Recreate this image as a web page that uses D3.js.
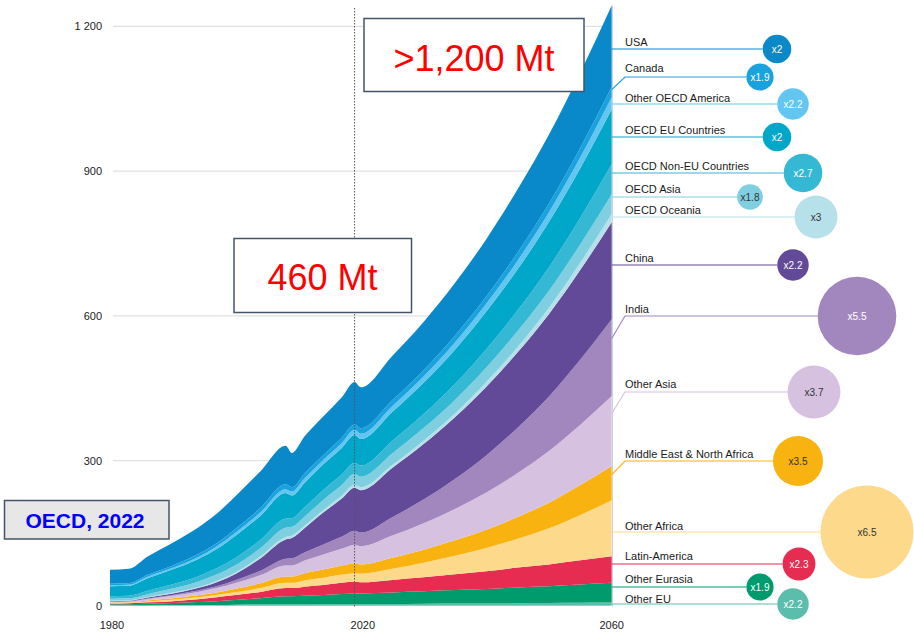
<!DOCTYPE html>
<html>
<head>
<meta charset="utf-8">
<script src="https://cdn.jsdelivr.net/npm/d3@7/dist/d3.min.js"></script>
<style>
  body { margin: 0; background: #fff; font-family: "Liberation Sans", Arial, sans-serif; }
</style>
</head>
<body>
<div id="chart"></div>
<script>
// years shown on the stacked area (historic + projection)
const years = [1980, 1983, 1986, 1990, 1994, 1997, 2000, 2004, 2008, 2009, 2011, 2014, 2017, 2019, 2020, 2025, 2030, 2035, 2040, 2045, 2050, 2055, 2060]

// plastic use per region, Mt (bottom of stack first)
const otherEu      = [0.5, 0.5, 0.5, 1, 1, 1, 1.5, 2, 2, 2, 2, 2.5, 3, 3, 3, 3, 3.5, 4, 4, 4.5, 5, 5.5, 6]
const otherEurasia = [2, 2, 3, 4, 6, 8, 10, 13, 17, 17, 18, 19, 21, 22, 22, 24, 26, 28, 30, 33, 35, 38, 41]
const latinAmerica = [1.5, 2, 3, 4, 6, 8, 10, 13, 17, 17, 19, 21, 23, 24, 23, 26, 29, 33, 37, 41, 45, 50, 55]
const otherAfrica  = [1, 1, 2, 3, 4, 5, 6, 8, 11, 11, 13, 15, 17, 18, 18, 23, 30, 38, 48, 60, 75, 94, 116]
const mena         = [1, 1, 2, 3, 4, 5, 7, 10, 13, 13, 15, 17, 19, 20, 19, 23, 27, 32, 38, 45, 53, 62, 71]
const otherAsia    = [1.5, 2, 3, 5, 7, 9, 12, 17, 23, 23, 26, 31, 35, 39, 38, 46, 55, 65, 77, 91, 107, 125, 145]
const india        = [0.5, 0.5, 1, 2, 3, 4, 6, 9, 14, 15, 17, 21, 25, 29, 28, 38, 49, 62, 77, 94, 113, 135, 159]
const china        = [1, 1, 2, 3, 5, 8, 13, 26, 40, 42, 50, 66, 79, 89, 88, 102, 115, 128, 142, 156, 171, 186, 201]
const oecdOceania  = [1, 1, 1, 2, 2, 3, 3, 4, 5, 5, 5, 5, 6, 6, 6, 6, 7, 8, 10, 11, 13, 15, 17]
const oecdAsia     = [4, 4, 6, 8, 11, 13, 15, 17, 19, 18, 19, 21, 22, 23, 22, 24, 26, 28, 30, 33, 35, 38, 41]
const oecdNonEu    = [5, 5, 7, 9, 11, 13, 15, 17, 19, 18, 19, 21, 22, 23, 23, 26, 29, 33, 38, 43, 49, 55, 62]
const oecdEu       = [21, 21, 26, 31, 36, 40, 46, 50, 53, 47, 51, 53, 55, 57, 55, 60, 65, 71, 78, 85, 94, 103, 114]
const otherOecdAm  = [2, 2, 3, 3, 4, 5, 6, 7, 8, 8, 9, 9, 10, 11, 11, 12, 13, 15, 16, 18, 20, 22, 25]
const canada       = [3, 3, 4, 5, 6, 7, 8, 9, 10, 9, 10, 10, 11, 11, 11, 12, 13, 14, 15, 17, 18, 20, 21]
const usa          = [29, 30, 38, 47, 55, 61, 68, 76, 80, 71, 77, 80, 84, 88, 85, 92, 100, 109, 119, 131, 143, 156, 169]

const regionNames = ["Other EU", "Other Eurasia", "Latin-America", "Other Africa", "Middle East & North Africa",
  "Other Asia", "India", "China", "OECD Oceania", "OECD Asia", "OECD Non-EU Countries",
  "OECD EU Countries", "Other OECD America", "Canada", "USA"]
const regionValues = [otherEu, otherEurasia, latinAmerica, otherAfrica, mena, otherAsia, india, china,
  oecdOceania, oecdAsia, oecdNonEu, oecdEu, otherOecdAm, canada, usa]
const multipliers = [2.2, 1.9, 2.3, 6.5, 3.5, 3.7, 5.5, 2.2, 3, 1.8, 2.7, 2, 2.2, 1.9, 2]

const yTicks = [0, 300, 600, 900, 1200]
const yTickLabels = ["0", "300", "600", "900", "1 200"]
const xTicks = [1980, 2020, 2060]
const markerYear = 2019

// colours and legend layout (same order as regionNames)
const regionColors = ["#5bbdab", "#009b6c", "#e62c50", "#fdd98b", "#f8b310",
  "#d6c2e0", "#a287be", "#624a98", "#b6e0ea", "#80cfe0", "#34b8d4",
  "#00a7c8", "#62c6f1", "#1aa2de", "#0a89ca"]
const darkText = ["OECD Asia", "OECD Oceania", "Other Asia", "Middle East & North Africa", "Other Africa"]
const rowY   = [604, 587, 564, 532, 461, 392, 316, 265, 217, 197, 173, 137, 104, 77, 49]
const textY  = [603, 583, 560, 530, 458, 388, 313, 262, 214, 193, 170, 134, 102, 72, 46]
const bubbleX = [793, 760, 799, 867, 798, 814, 857, 793, 816, 750, 803, 777, 793, 760, 777]

const W = 914, H = 633

const svg = d3.select("#chart").append("svg")
    .attr("width", W)
    .attr("height", H)
    .style("display", "block")

const x = d3.scaleLinear().domain([1980, 2060]).range([110, 611.7])
const y = d3.scaleLinear().domain([0, 1200]).range([605.5, 26.3])
const r = d3.scaleLinear().domain([0, 1]).range([0, 7.15])

// table for the stack
const table = years.map((yr, i) => {
    const row = { year: yr }
    regionNames.forEach((n, k) => { row[n] = regionValues[k][i] })
    return row
})
const series = d3.stack().keys(regionNames)(table)

// grid lines
svg.append("g").selectAll("line")
    .data(yTicks)
    .join("line")
      .attr("x1", 113).attr("x2", 611)
      .attr("y1", d => y(d)).attr("y2", d => y(d))
      .attr("stroke", "#d9d9d9")
      .attr("stroke-width", 1)

// y labels
svg.append("g").selectAll("text")
    .data(yTicks)
    .join("text")
      .attr("x", 102)
      .attr("y", d => y(d) + 4)
      .attr("text-anchor", "end")
      .attr("font-size", 11)
      .attr("fill", "#222")
      .text((d, i) => yTickLabels[i])

// x labels
svg.append("g").selectAll("text")
    .data(xTicks)
    .join("text")
      .attr("x", d => x(d) + (d == 2060 ? 0 : 2))
      .attr("y", 629)
      .attr("text-anchor", "middle")
      .attr("font-size", 11)
      .attr("fill", "#222")
      .text(d => d)

// stacked areas
const area = d3.area()
    .x(d => x(d.data.year))
    .y0(d => y(d[0]))
    .y1(d => y(d[1]))
    .curve(d3.curveMonotoneX)

svg.append("g").selectAll("path")
    .data(series)
    .join("path")
      .attr("fill", (d, i) => regionColors[i])
      .attr("d", area)

// right edge line
svg.append("line")
    .attr("x1", 612.5).attr("x2", 612.5)
    .attr("y1", y(1243)).attr("y2", 607)
    .attr("stroke", "#c9d3e6")
    .attr("stroke-width", 1)

// dotted line at the last historic year
svg.append("line")
    .attr("x1", x(markerYear)).attr("x2", x(markerYear))
    .attr("y1", 8).attr("y2", 607)
    .attr("stroke", "#555")
    .attr("stroke-width", 1)
    .attr("stroke-dasharray", "1.5,1.5")

// legend: leader lines, labels and bubbles
const legend = svg.append("g")
series.forEach((s, i) => {
    const last = s[s.length - 1]
    const top = y(last[1]), bottom = y(last[0])
    let anchor = rowY[i]
    if (anchor < top + 1 || anchor > bottom - 1) anchor = top + (bottom - top) * 0.25
    const rad = r(multipliers[i])
    legend.append("path")
        .attr("d", `M${x(2060)},${anchor} L625,${rowY[i]} L${bubbleX[i] - rad},${rowY[i]}`)
        .attr("fill", "none")
        .attr("stroke", regionColors[i])
        .attr("stroke-width", 1.2)
    legend.append("text")
        .attr("x", 625)
        .attr("y", textY[i])
        .attr("font-size", 11)
        .attr("fill", "#1a1a1a")
        .text(regionNames[i])
})
series.forEach((s, i) => {
    legend.append("circle")
        .attr("cx", bubbleX[i])
        .attr("cy", rowY[i])
        .attr("r", r(multipliers[i]))
        .attr("fill", regionColors[i])
    legend.append("text")
        .attr("x", bubbleX[i])
        .attr("y", rowY[i] + 3.5)
        .attr("text-anchor", "middle")
        .attr("font-size", 10)
        .attr("fill", darkText.includes(regionNames[i]) ? "#333" : "#fff")
        .text("x" + multipliers[i])
})

// annotation boxes
function box(x0, y0, x1, y1, fill) {
    svg.append("rect")
        .attr("x", x0).attr("y", y0)
        .attr("width", x1 - x0).attr("height", y1 - y0)
        .attr("fill", fill)
        .attr("stroke", "#44546a")
        .attr("stroke-width", 1.5)
}
box(364, 18.5, 584, 91.5, "#fff")
svg.append("text")
    .attr("x", 474).attr("y", 70.5)
    .attr("text-anchor", "middle")
    .attr("font-size", 36)
    .attr("fill", "#ff0000")
    .text(">1,200 Mt")

box(234, 238.5, 411.5, 312.5, "#fff")
svg.append("text")
    .attr("x", 322.5).attr("y", 290)
    .attr("text-anchor", "middle")
    .attr("font-size", 36)
    .attr("fill", "#ff0000")
    .text("460 Mt")

box(4.5, 500.5, 169, 539, "#e7e7e7")
svg.append("text")
    .attr("x", 85).attr("y", 528)
    .attr("text-anchor", "middle")
    .attr("font-size", 21)
    .attr("font-weight", "bold")
    .attr("fill", "#0000ff")
    .text("OECD, 2022")
</script>
</body>
</html>
